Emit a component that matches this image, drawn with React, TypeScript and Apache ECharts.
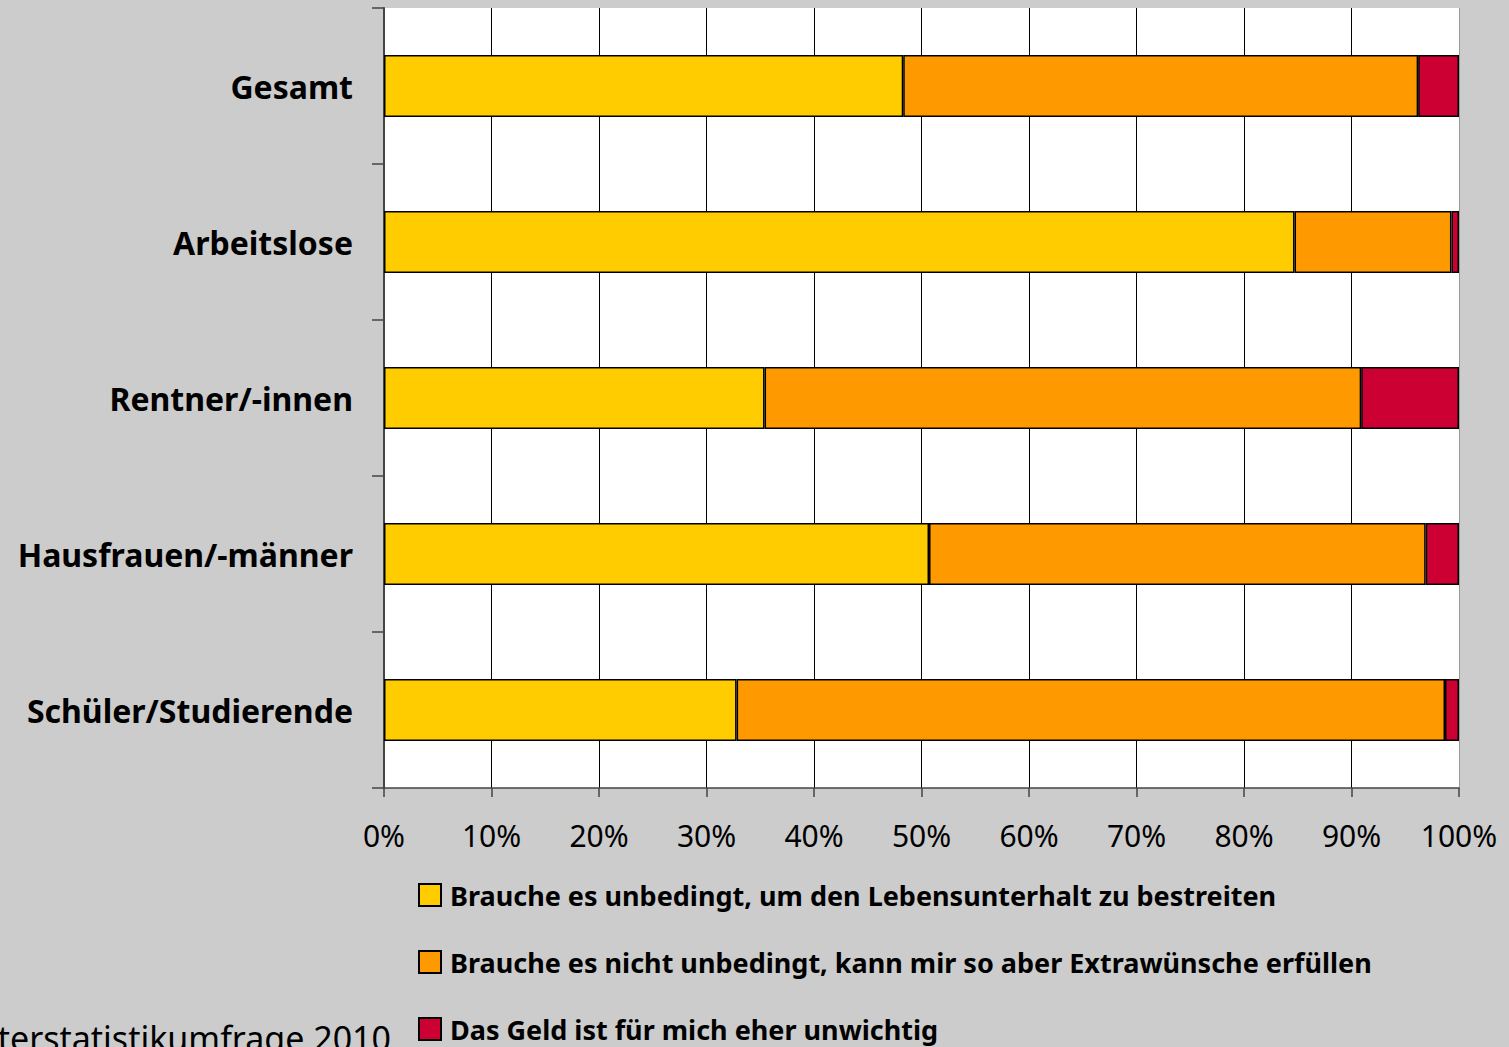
import React, { useEffect, useRef } from "react";
import * as echarts from "echarts";

const categories = ["Gesamt", "Arbeitslose", "Rentner/-innen", "Hausfrauen/-männer", "Schüler/Studierende"];
const seriesNames = [
  "Brauche es unbedingt, um den Lebensunterhalt zu bestreiten",
  "Brauche es nicht unbedingt, kann mir so aber Extrawünsche erfüllen",
  "Das Geld ist für mich eher unwichtig",
];
const unbedingt = [48.3, 84.7, 35.4, 50.7, 32.8];
const extra = [47.9, 14.6, 55.5, 46.2, 65.9];
const unwichtig = [3.8, 0.7, 9.1, 3.1, 1.3];
const colors = ["#FFCC00", "#FF9900", "#CC0033"];
const sourceText = "terstatistikumfrage 2010";

const FONT = "'Noto Sans', 'Open Sans', sans-serif";

export default function App() {
  const ref = useRef<HTMLDivElement>(null);
  useEffect(() => {
    if (!ref.current) return;
    const chart = echarts.init(ref.current, undefined, { renderer: "svg" });
    const values = [unbedingt, extra, unwichtig];
    chart.setOption({
      animation: false,
      backgroundColor: "#CCCCCC",
      textStyle: { fontFamily: FONT },
      grid: {
        left: 384,
        right: 50,
        top: 8,
        bottom: 259,
        show: true,
        backgroundColor: "#FFFFFF",
        borderWidth: 0,
      },
      xAxis: {
        type: "value",
        min: 0,
        max: 100,
        interval: 10,
        axisLine: { show: true, lineStyle: { color: "#444", width: 1.5 } },
        axisTick: { show: true, length: 9, lineStyle: { color: "#444", width: 1.5 } },
        axisLabel: {
          formatter: "{value}%",
          fontSize: 30,
          color: "#000",
          margin: 32,
          fontFamily: FONT,
        },
        splitLine: {
          show: true,
          lineStyle: { color: ["#000", "#000", "#000", "#000", "#000", "#000", "#000", "#000", "#000", "#000", "#999"], width: 1 },
        },
      },
      yAxis: {
        type: "category",
        data: categories,
        inverse: true,
        axisLine: { show: true, lineStyle: { color: "#444", width: 2 } },
        axisTick: { show: true, length: 12, alignWithLabel: false, lineStyle: { color: "#444", width: 1.5 } },
        axisLabel: {
          fontSize: 32,
          fontWeight: "bold",
          color: "#000",
          margin: 31,
          fontFamily: FONT,
        },
        splitLine: { show: false },
      },
      legend: {
        orient: "vertical",
        left: 418,
        top: 880,
        height: 400,
        padding: 0,
        itemWidth: 22,
        itemHeight: 22,
        itemGap: 37,
        icon: "rect",
        textStyle: {
          fontSize: 27,
          fontWeight: "bold",
          color: "#000",
          lineHeight: 30,
          padding: [0, 0, 0, 4],
          fontFamily: FONT,
        },
        data: seriesNames,
      },
      graphic: [
        {
          type: "text",
          x: 391,
          y: 1021,
          style: {
            text: sourceText,
            fontSize: 34,
            fill: "#000",
            fontFamily: FONT,
            align: "right",
            verticalAlign: "top",
          },
        },
      ],
      series: seriesNames.map((name, i) => ({
        name,
        type: "bar",
        stack: "total",
        barWidth: 62,
        data: values[i],
        itemStyle: { color: colors[i], borderColor: "#000", borderWidth: 1.5 },
      })),
    });
    return () => chart.dispose();
  }, []);
  return (
    <div
      ref={ref}
      style={{ position: "fixed", left: 0, top: 0, width: 1509, height: 1047 }}
    />
  );
}
